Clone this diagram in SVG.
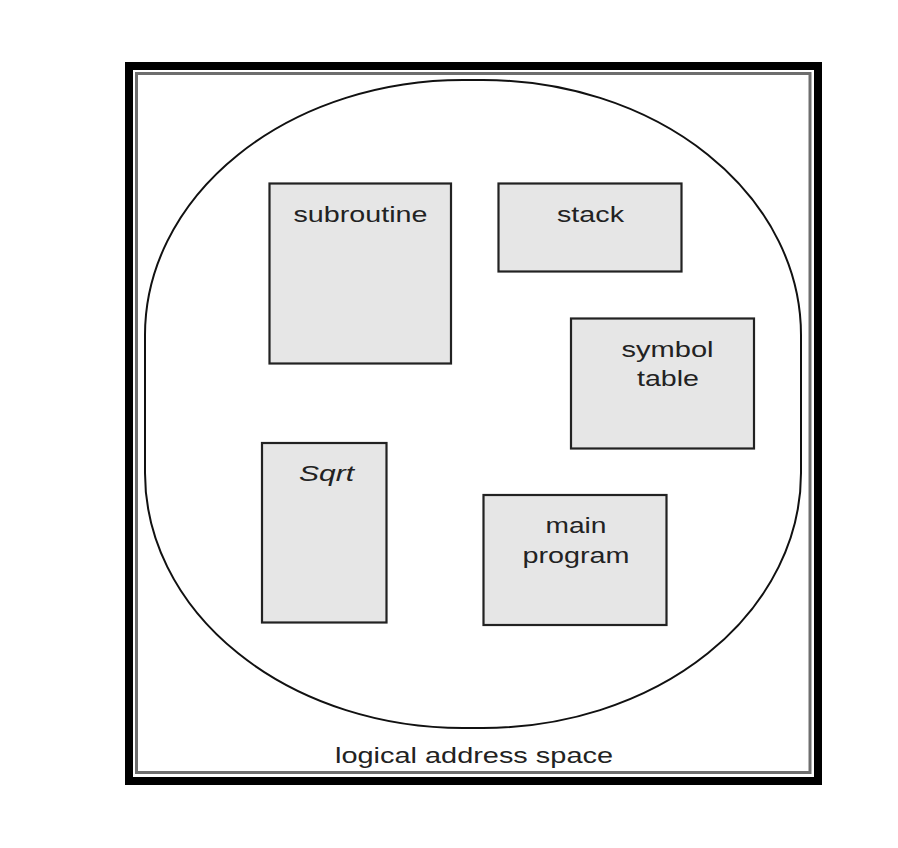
<svg xmlns="http://www.w3.org/2000/svg" width="898" height="848" viewBox="0 0 898 848">
  <style>
    .seg { fill: #e6e6e6; stroke: #222; stroke-width: 2.2; }
    .lbl { font-family: "Liberation Sans", Arial, sans-serif; font-size: 22px; fill: #222; text-anchor: middle; }
    .it { font-style: italic; }
  </style>
  <rect width="898" height="848" fill="#ffffff"/>
  <g id="frame">
    <rect x="129" y="66" width="689" height="715" fill="none" stroke="#000" stroke-width="8"/>
    <rect x="136.5" y="73.5" width="673.5" height="699" fill="none" stroke="#6e6e6e" stroke-width="3"/>
  </g>
  <g id="space">
    <rect x="145" y="80" width="656" height="648" rx="318" ry="255" fill="none" stroke="#111" stroke-width="2"/>
    <text class="lbl" x="474" y="763" textLength="278" lengthAdjust="spacingAndGlyphs">logical address space</text>
  </g>
  <g id="subroutine">
    <rect class="seg" x="269.5" y="183.5" width="181.5" height="180"/>
    <text class="lbl" x="360.5" y="221.5" textLength="134" lengthAdjust="spacingAndGlyphs">subroutine</text>
  </g>
  <g id="stack">
    <rect class="seg" x="498.5" y="183.5" width="183" height="88"/>
    <text class="lbl" x="590.5" y="221.5" textLength="67" lengthAdjust="spacingAndGlyphs">stack</text>
  </g>
  <g id="symbol-table">
    <rect class="seg" x="571" y="318.5" width="183" height="130"/>
    <text class="lbl" x="667.5" y="356.5" textLength="92" lengthAdjust="spacingAndGlyphs">symbol</text>
    <text class="lbl" x="668" y="386" textLength="62" lengthAdjust="spacingAndGlyphs">table</text>
  </g>
  <g id="sqrt">
    <rect class="seg" x="262" y="443" width="124.5" height="179.5"/>
    <text class="lbl it" x="326.5" y="480.5" textLength="55" lengthAdjust="spacingAndGlyphs">Sqrt</text>
  </g>
  <g id="main-program">
    <rect class="seg" x="483.5" y="495" width="183" height="130"/>
    <text class="lbl" x="576" y="533" textLength="61" lengthAdjust="spacingAndGlyphs">main</text>
    <text class="lbl" x="576" y="563" textLength="107" lengthAdjust="spacingAndGlyphs">program</text>
  </g>
  <g id="connectors"></g>
</svg>
